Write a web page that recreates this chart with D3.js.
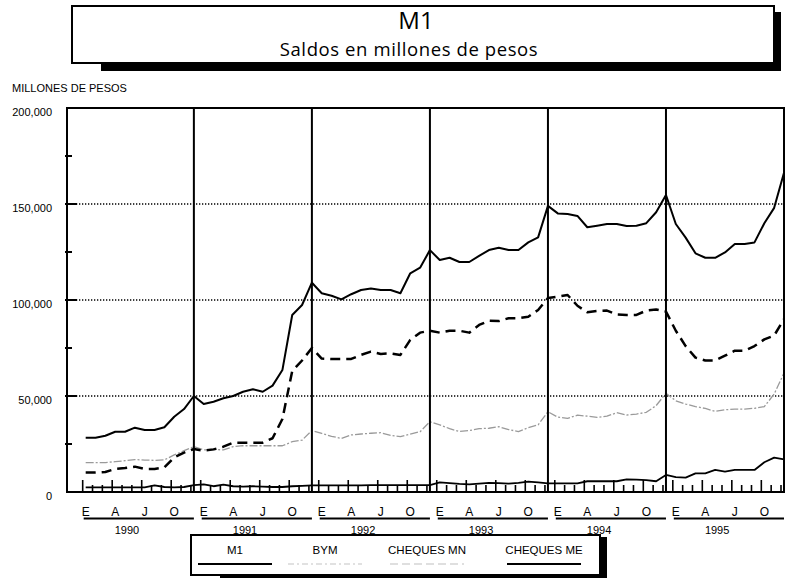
<!DOCTYPE html>
<html>
<head>
<meta charset="utf-8">
<script src="https://cdn.jsdelivr.net/npm/d3@7"></script>
<style>
    body { margin: 0; background: #fff; }
    svg { display: block; }
    text { font-family: "Liberation Sans", Arial, sans-serif; fill: #000; }
    .title-text { font-family: "Open Sans", "Noto Sans", sans-serif; }
</style>
</head>
<body>
<div id="chart"></div>
<script>
'use strict';

// data, millones de pesos, monthly Jan 1990 .. Dec 1995
var years = ['1990', '1991', '1992', '1993', '1994', '1995'];
var monthLetters = ['E', 'A', 'J', 'O'];
var yTickValues = [0, 50000, 100000, 150000, 200000];
var seriesNames = ['M1', 'BYM', 'CHEQUES MN', 'CHEQUES ME'];

var m1 = [
    28300, 28300, 29300, 31400, 31400, 33500, 32300, 32300, 33700, 39200, 43200, 50000,
    45800, 47000, 48800, 50000, 52200, 53500, 52200, 55400, 63500, 92200, 97400, 109000,
    103500, 102200, 100300, 103000, 105200, 106000, 105200, 105200, 103500, 113900, 116800, 126000,
    120800, 122000, 119800, 119800, 123000, 126000, 127200, 126000, 126000, 130000, 132600, 149000,
    145100, 144800, 143800, 137900, 138700, 139600, 139600, 138500, 138700, 140000, 145700, 154700,
    139600, 132500, 124300, 122000, 122000, 124800, 129200, 129200, 130000, 140000, 148000, 166300
];

var bym = [
    15300, 15300, 15300, 15800, 16300, 16900, 16600, 16500, 16700, 19300, 21500, 23600,
    21900, 22200, 21900, 23600, 24100, 24100, 24100, 24100, 24100, 26200, 27000, 32000,
    30500, 29000, 27900, 29700, 30200, 30600, 30900, 29500, 28800, 30200, 31400, 36600,
    35000, 33000, 31500, 32000, 33000, 33200, 34000, 32500, 31500, 33500, 35000, 41800,
    39000, 38400, 40000, 39500, 38900, 39500, 41300, 40100, 40600, 41500, 45000, 51400,
    47500, 45800, 44500, 43500, 42000, 42800, 43200, 43200, 43600, 44500, 51000, 62000
];

var chequesMN = [
    10100, 10100, 10400, 12000, 12500, 13200, 12000, 12000, 12800, 18000, 20500, 22400,
    21500, 22200, 23600, 25700, 25700, 25700, 25700, 28000, 38000, 63000, 68500, 75000,
    69500, 69300, 69300, 69300, 71400, 73100, 71900, 72200, 71400, 79200, 83000, 84000,
    83000, 84000, 84000, 83000, 87000, 89200, 89000, 90500, 90500, 91300, 94800, 101000,
    101700, 102600, 97000, 93600, 94300, 94500, 92500, 92200, 92200, 94500, 95100, 94000,
    84000, 76000, 70000, 68500, 68500, 71000, 73600, 73600, 76000, 79500, 81500, 90000
];

var chequesME = [
    2400, 2400, 2400, 2400, 2400, 2400, 2400, 3400, 2600, 2400, 2600, 3600,
    4000, 3000, 3800, 3000, 2800, 3000, 2800, 2600, 2600, 3000, 3200, 3400,
    3400, 3400, 3400, 3400, 3400, 3600, 3600, 3600, 3600, 3600, 3600, 3600,
    5000, 4600, 4200, 4000, 4400, 4800, 4600, 4400, 4800, 5400, 5000, 4500,
    4500, 4500, 4500, 5600, 5600, 5600, 5600, 6600, 6400, 6200, 5600, 8900,
    7700, 7500, 9700, 9700, 11500, 10600, 11500, 11500, 11500, 15500, 17900, 17000
];

var svgWidth = 788,
    svgHeight = 578,
    margin = {top: 108, right: 4, bottom: 86, left: 67},
    plotRight = svgWidth - margin.right,
    plotBottom = svgHeight - margin.bottom;

// month index scale (0 = enero 1990), leaves a little room before the first month
var x = d3.scaleLinear().domain([-1.9, 71]).range([margin.left, plotRight]);
var y = d3.scaleLinear().domain([0, 200000]).range([plotBottom, margin.top]);

var svg = d3.select('#chart').append('svg')
    .attr('width', svgWidth)
    .attr('height', svgHeight);

// title box with its drop shadow
svg.append('rect')
    .attr('x', 101).attr('y', 12)
    .attr('width', 680).attr('height', 59)
    .attr('fill', '#000');
svg.append('rect')
    .attr('x', 72).attr('y', 6)
    .attr('width', 702).attr('height', 57)
    .attr('fill', '#fff')
    .attr('stroke', '#000')
    .attr('stroke-width', 2);
svg.append('text')
    .attr('class', 'title-text')
    .attr('x', 416).attr('y', 29)
    .attr('text-anchor', 'middle')
    .style('font-size', '24px')
    .text('M1');
svg.append('text')
    .attr('class', 'title-text')
    .attr('x', 409).attr('y', 56)
    .attr('text-anchor', 'middle')
    .style('font-size', '18.5px')
    .style('letter-spacing', '0.6px')
    .text('Saldos en millones de pesos');

svg.append('text')
    .attr('x', 12).attr('y', 92)
    .style('font-size', '11px')
    .text('MILLONES DE PESOS');

// dotted grid lines
svg.append('g')
    .selectAll('line')
    .data(yTickValues.filter(function(d) { return d > 0 && d < 200000; }))
    .enter().append('line')
    .attr('x1', margin.left).attr('x2', plotRight)
    .attr('y1', function(d) { return y(d); })
    .attr('y2', function(d) { return y(d); })
    .attr('stroke', '#000')
    .attr('stroke-width', 1.5)
    .attr('stroke-dasharray', '1.3,1.7');

// y tick labels
svg.append('g')
    .selectAll('text')
    .data(yTickValues)
    .enter().append('text')
    .attr('x', 52)
    .attr('y', function(d) { return y(d) + 7.5; })
    .attr('text-anchor', 'end')
    .style('font-size', '11px')
    .text(function(d) { return d3.format(',')(d); });

// left ticks every 25,000
var leftTicks = d3.range(25000, 200000, 25000);
svg.append('g')
    .selectAll('line')
    .data(leftTicks)
    .enter().append('line')
    .attr('x1', margin.left - 2)
    .attr('x2', function(d) { return d % 50000 === 0 ? margin.left + 10 : margin.left + 5; })
    .attr('y1', function(d) { return y(d); })
    .attr('y2', function(d) { return y(d); })
    .attr('stroke', '#000')
    .attr('stroke-width', 2);

// series lines
var line = d3.line()
    .x(function(d, i) { return x(i); })
    .y(function(d) { return y(d); });

var series = [
    {name: seriesNames[1], values: bym, stroke: '#9a9a9a', width: 1.3, dash: '8,2,2,2'},
    {name: seriesNames[2], values: chequesMN, stroke: '#000', width: 2.5, dash: '10,6'},
    {name: seriesNames[3], values: chequesME, stroke: '#000', width: 1.8, dash: null},
    {name: seriesNames[0], values: m1, stroke: '#000', width: 2, dash: null}
];

svg.append('g')
    .selectAll('path')
    .data(series)
    .enter().append('path')
    .attr('fill', 'none')
    .attr('stroke', function(d) { return d.stroke; })
    .attr('stroke-width', function(d) { return d.width; })
    .attr('stroke-dasharray', function(d) { return d.dash; })
    .attr('stroke-linejoin', 'round')
    .attr('d', function(d) { return line(d.values); });

// year separators at each december
svg.append('g')
    .selectAll('line')
    .data(years)
    .enter().append('line')
    .attr('x1', function(d, i) { return x(i * 12 + 11); })
    .attr('x2', function(d, i) { return x(i * 12 + 11); })
    .attr('y1', margin.top).attr('y2', plotBottom)
    .attr('stroke', '#000')
    .attr('stroke-width', 2);

// frame
svg.append('rect')
    .attr('x', margin.left).attr('y', margin.top)
    .attr('width', plotRight - margin.left)
    .attr('height', plotBottom - margin.top)
    .attr('fill', 'none')
    .attr('stroke', '#000')
    .attr('stroke-width', 2);

// month ticks on the bottom axis, taller at each quarter
svg.append('g')
    .selectAll('line')
    .data(d3.range(0, 72))
    .enter().append('line')
    .attr('x1', function(d) { return x(d) - 3; })
    .attr('x2', function(d) { return x(d) - 3; })
    .attr('y1', function(d) { return d % 3 === 0 ? plotBottom - 12 : plotBottom - 7; })
    .attr('y2', plotBottom)
    .attr('stroke', '#000')
    .attr('stroke-width', 1.6);

// month letters
var monthLabels = [];
years.forEach(function(yr, yi) {
    monthLetters.forEach(function(m, mi) {
        monthLabels.push({text: m, index: yi * 12 + mi * 3});
    });
});

svg.append('g')
    .selectAll('text')
    .data(monthLabels)
    .enter().append('text')
    .attr('x', function(d) { return x(d.index); })
    .attr('y', 516)
    .attr('text-anchor', 'middle')
    .style('font-size', '12px')
    .text(function(d) { return d.text; });

// year underline and year label
var yearGroup = svg.append('g');

yearGroup.selectAll('line')
    .data(years)
    .enter().append('line')
    .attr('x1', function(d, i) { return x(i * 12) - 2; })
    .attr('x2', function(d, i) { return x(i * 12 + 11); })
    .attr('y1', 518.5).attr('y2', 518.5)
    .attr('stroke', '#000')
    .attr('stroke-width', 2);

yearGroup.selectAll('text')
    .data(years)
    .enter().append('text')
    .attr('x', function(d, i) { return x(i * 12 + 4.2); })
    .attr('y', 534)
    .attr('text-anchor', 'middle')
    .style('font-size', '11px')
    .text(function(d) { return d; });

// legend box
svg.append('rect')
    .attr('x', 220).attr('y', 537)
    .attr('width', 387).attr('height', 50)
    .attr('fill', '#000');
svg.append('rect')
    .attr('x', 191).attr('y', 535)
    .attr('width', 409).attr('height', 40)
    .attr('fill', '#fff')
    .attr('stroke', '#000')
    .attr('stroke-width', 2);

var legendCenters = [235, 325, 427, 544];
var legendStyles = [
    {stroke: '#000', width: 2, dash: null},
    {stroke: '#c4c4c4', width: 1.2, dash: '6,3,2,3'},
    {stroke: '#c0c0c0', width: 1.2, dash: '8,4'},
    {stroke: '#000', width: 2, dash: null}
];

var legend = svg.append('g')
    .selectAll('g')
    .data(seriesNames)
    .enter().append('g')
    .attr('transform', function(d, i) { return 'translate(' + legendCenters[i] + ',0)'; });

legend.append('text')
    .attr('x', 0).attr('y', 554)
    .attr('text-anchor', 'middle')
    .style('font-size', '11.5px')
    .text(function(d) { return d; });

legend.append('line')
    .attr('x1', -37).attr('x2', 37)
    .attr('y1', 564).attr('y2', 564)
    .attr('stroke', function(d, i) { return legendStyles[i].stroke; })
    .attr('stroke-width', function(d, i) { return legendStyles[i].width; })
    .attr('stroke-dasharray', function(d, i) { return legendStyles[i].dash; });
</script>
</body>
</html>
